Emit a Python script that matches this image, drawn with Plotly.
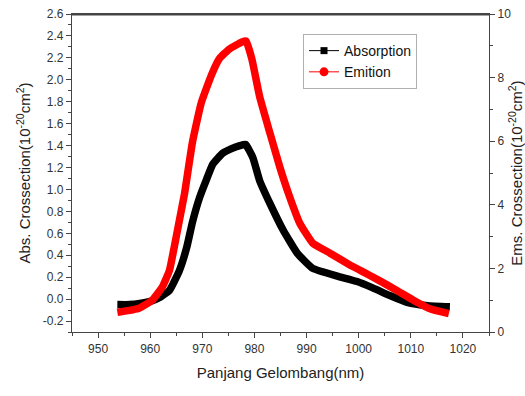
import plotly.graph_objects as go

# Absorption (left axis, 10^-20 cm^2)
abs_x = [953.7, 956.0, 958.0, 960.0, 962.0, 963.7, 965.6, 967.0, 968.1, 969.5, 970.8, 972.0,
         973.9, 975.5, 977.2, 978.3, 979.7, 981.0, 982.9, 985.5, 988.2, 991.2, 995.9,
         999.7, 1002.8, 1006.1, 1009.3, 1013.2, 1017.5]
abs_y = [-0.05, -0.05, -0.04, -0.02, 0.02, 0.08, 0.26, 0.47, 0.70, 0.93, 1.09, 1.23,
         1.33, 1.37, 1.40, 1.41, 1.29, 1.08, 0.88, 0.63, 0.42, 0.28, 0.21,
         0.16, 0.10, 0.03, -0.03, -0.06, -0.07]

# Emission (right axis, 10^-20 cm^2)
ems_x = [953.7, 957.9, 960.4, 962.3, 963.7, 964.6, 965.6, 966.6, 968.1, 969.8, 971.8,
         973.3, 975.2, 977.6, 978.4, 979.5, 981.0, 983.0, 984.9, 986.8, 988.7, 991.2,
         994.5, 998.4, 1000.3, 1003.8, 1007.4, 1010.5, 1013.8, 1017.3]
ems_y = [0.62, 0.75, 1.0, 1.41, 1.94, 2.66, 3.51, 4.36, 5.96, 7.21, 8.10,
         8.60, 8.90, 9.12, 9.15, 8.59, 7.40, 6.24, 5.17, 4.23, 3.42, 2.79,
         2.48, 2.10, 1.94, 1.63, 1.30, 1.00, 0.72, 0.58]

x_ticks = [950, 960, 970, 980, 990, 1000, 1010, 1020]
left_ticks = [-0.2, 0.0, 0.2, 0.4, 0.6, 0.8, 1.0, 1.2, 1.4, 1.6, 1.8, 2.0, 2.2, 2.4, 2.6]
left_labels = ["-0.2", "0.0", "0.2", "0.4", "0.6", "0.8", "1.0", "1.2", "1.4", "1.6",
               "1.8", "2.0", "2.2", "2.4", "2.6"]
right_ticks = [0, 2, 4, 6, 8, 10]

FONT = "Liberation Sans, Arial, sans-serif"
AX = "#444444"

fig = go.Figure()
fig.add_trace(go.Scatter(x=abs_x, y=abs_y, mode="lines",
                         line=dict(color="#000000", width=7.5, shape="spline", smoothing=0.4),
                         showlegend=False, yaxis="y"))
fig.add_trace(go.Scatter(x=ems_x, y=ems_y, mode="lines",
                         line=dict(color="#ff0000", width=7.5, shape="spline", smoothing=0.4),
                         showlegend=False, yaxis="y2"))
# legend entries
fig.add_trace(go.Scatter(x=[None], y=[None], mode="lines+markers", name="Absorption",
                         line=dict(color="#000000", width=1), marker=dict(symbol="square", size=7, color="#000000")))
fig.add_trace(go.Scatter(x=[None], y=[None], mode="lines+markers", name="Emition",
                         line=dict(color="#ff0000", width=1), marker=dict(symbol="circle", size=9, color="#ff0000")))

# top frame line
fig.add_shape(type="line", xref="paper", yref="paper", x0=0, x1=1, y0=0.998, y1=0.998,
              line=dict(color=AX, width=1.5), layer="above")

fig.update_layout(
    width=525, height=396,
    margin=dict(l=72, r=36, t=14, b=64, autoexpand=False),
    paper_bgcolor="white", plot_bgcolor="white",
    font=dict(family=FONT, color="#333333", size=11),
    xaxis=dict(range=[945, 1025], tickvals=x_ticks, ticks="outside", ticklen=5, tickcolor=AX,
               showline=True, mirror=True, linecolor=AX, linewidth=1.3, showgrid=False, zeroline=False,
               automargin=False,
               minor=dict(dtick=5, tick0=945, ticks="outside", ticklen=3, tickcolor=AX),
               title=dict(text="Panjang Gelombang(nm)", font=dict(size=15, color="#222"), standoff=12),
               tickfont=dict(size=12)),
    yaxis=dict(range=[-0.3, 2.6], tickvals=left_ticks, ticktext=left_labels, ticks="outside", ticklen=5,
               tickcolor=AX, showline=True, linecolor=AX, linewidth=1.3, showgrid=False, zeroline=False,
               automargin=False,
               minor=dict(dtick=0.1, tick0=0, ticks="outside", ticklen=3, tickcolor=AX),
               title=dict(text="Abs. Crossection(10<sup>-20</sup>cm<sup>2</sup>)", font=dict(size=15, color="#222"),
                          standoff=8),
               tickfont=dict(size=12)),
    yaxis2=dict(range=[0, 10], overlaying="y", side="right", tickvals=right_ticks, ticks="outside", ticklen=5,
                tickcolor=AX, showline=True, linecolor=AX, linewidth=1.3, showgrid=False, zeroline=False,
                automargin=False,
                minor=dict(dtick=1, ticks="outside", ticklen=3, tickcolor=AX),
                title=dict(text="Ems. Crossection(10<sup>-20</sup>cm<sup>2</sup>)", font=dict(size=15, color="#222"),
                           standoff=8),
                tickfont=dict(size=12)),
    legend=dict(x=0.554, y=0.937, xanchor="left", yanchor="top", bgcolor="white",
                bordercolor="#b0b0b0", borderwidth=1, font=dict(size=14, color="#111"),
                tracegroupgap=0, itemwidth=30),
)

fig.write_html("out.html")
